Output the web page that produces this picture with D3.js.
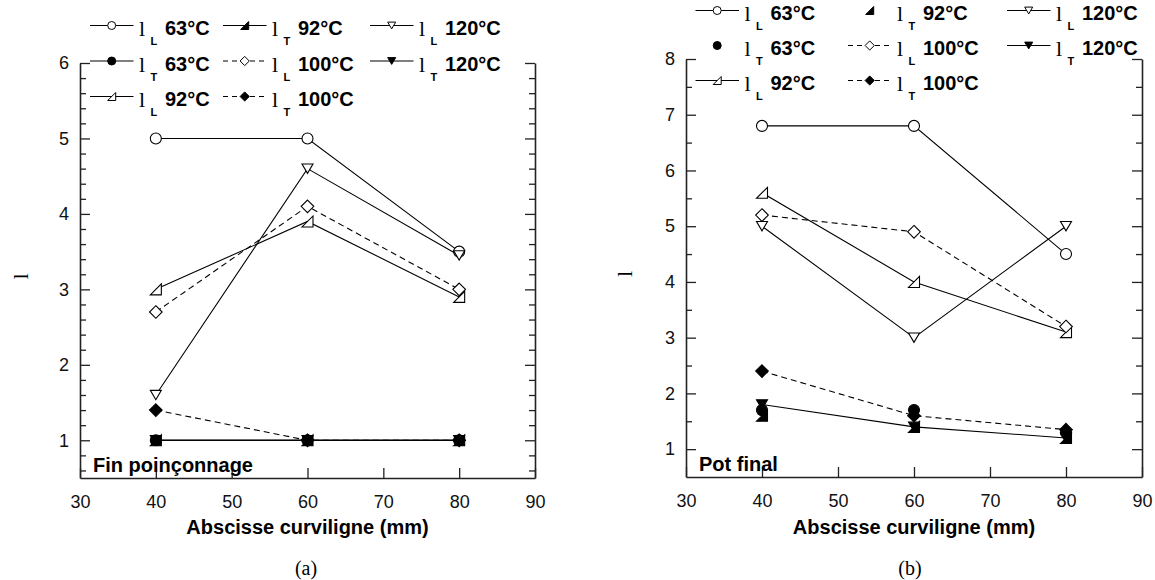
<!DOCTYPE html>
<html><head><meta charset="utf-8">
<script src="https://cdn.jsdelivr.net/npm/d3@7"></script>
<style>body{margin:0;background:#fff}</style>
</head><body>
<svg id="c" width="1155" height="580" xmlns="http://www.w3.org/2000/svg"></svg>
<script>
// ---------- data ----------
const xValues = [40, 60, 80];
const xTicks = [30, 40, 50, 60, 70, 80, 90];
const seriesKeys = ["lL63", "lT63", "lL92", "lT92", "lL100", "lT100", "lL120", "lT120"];
const seriesSub = ["L", "T", "L", "T", "L", "T", "L", "T"];
const seriesTemp = ["63°C", "63°C", "92°C", "92°C", "100°C", "100°C", "120°C", "120°C"];
const seriesSymbol = ["circle", "circle", "rtri", "rtri", "diamond", "diamond", "tridown", "tridown"];
const seriesFilled = [false, true, false, true, false, true, false, true];
const seriesDashed = [false, false, false, false, true, true, false, false];

// panel (a) : Fin poinçonnage
const aLL63 = [5, 5, 3.5];
const aLT63 = [1, 1, 1];
const aLL92 = [3, 3.9, 2.9];
const aLT92 = [1, 1, 1];
const aLL100 = [2.7, 4.1, 3.0];
const aLT100 = [1.4, 1, 1];
const aLL120 = [1.6, 4.6, 3.45];
const aLT120 = [1, 1, 1];
const aYTicks = [1, 2, 3, 4, 5, 6];
const aHasLine = [true, true, true, true, true, true, true, true];

// panel (b) : Pot final
const bLL63 = [6.8, 6.8, 4.5];
const bLT63 = [1.7, 1.7, 1.3];
const bLL92 = [5.6, 4.0, 3.1];
const bLT92 = [1.6, 1.4, 1.2];
const bLL100 = [5.2, 4.9, 3.2];
const bLT100 = [2.4, 1.6, 1.35];
const bLL120 = [5.0, 3.0, 5.0];
const bLT120 = [1.8, 1.4, 1.2];
const bYTicks = [1, 2, 3, 4, 5, 6, 7, 8];
const bHasLine = [true, false, true, false, true, true, true, true];

// ---------- drawing ----------
const svg = d3.select("#c");
const SANS = "'Liberation Sans', Arial, sans-serif";
const SERIF = "'Liberation Serif', 'Times New Roman', serif";

function shapePath(sym, s) {
  if (sym === "circle") return `M${s},0A${s},${s} 0 1,1 ${-s},0A${s},${s} 0 1,1 ${s},0Z`;
  if (sym === "rtri") return `M${-s},${s}L${s},${s}L${s},${-s}Z`;
  if (sym === "diamond") { const d = s * 1.15; return `M0,${-d}L${d},0L0,${d}L${-d},0Z`; }
  if (sym === "tridown") { const h = s * 0.85; return `M${-s},${-h}L${s},${-h}L0,${h}Z`; }
  return "";
}

function drawPanel(cfg) {
  const g = svg.append("g");
  const x = d3.scaleLinear().domain([30, 90]).range([cfg.left, cfg.right]);
  const y = d3.scaleLinear().domain([0.5, cfg.yMax]).range([cfg.bottom, cfg.top]);
  const axStroke = "#222";

  g.append("g").attr("transform", `translate(${cfg.left},0)`)
    .call(d3.axisLeft(y).tickValues(cfg.yTicks).tickSizeInner(-10).tickSizeOuter(0).tickPadding(11).tickFormat(d3.format("d")));
  g.append("g").attr("transform", `translate(${cfg.left},0)`)
    .call(d3.axisLeft(y).tickValues(cfg.yMinor).tickSizeInner(-6).tickSizeOuter(0).tickFormat(""))
    .select(".domain").remove();
  g.append("g").attr("transform", `translate(${cfg.right},0)`)
    .call(d3.axisRight(y).tickValues(cfg.yTicks).tickSizeInner(-10).tickSizeOuter(0).tickFormat(""));
  g.append("g").attr("transform", `translate(${cfg.right},0)`)
    .call(d3.axisRight(y).tickValues(cfg.yMinor).tickSizeInner(-6).tickSizeOuter(0).tickFormat(""))
    .select(".domain").remove();
  g.append("g").attr("transform", `translate(0,${cfg.bottom})`)
    .call(d3.axisBottom(x).tickValues(xTicks).tickSizeInner(-10).tickSizeOuter(0).tickPadding(17).tickFormat(d3.format("d")));

  g.selectAll(".domain").attr("stroke", axStroke).attr("stroke-width", 1.6);
  g.selectAll(".tick line").attr("stroke", axStroke).attr("stroke-width", 1.3);
  g.selectAll(".tick text").attr("font-family", SANS).attr("font-size", 18).attr("fill", "#111");

  g.append("text").attr("x", (cfg.left + cfg.right) / 2).attr("y", 534)
    .attr("text-anchor", "middle").attr("font-family", SANS).attr("font-weight", "bold")
    .attr("font-size", 20).text("Abscisse curviligne (mm)");
  g.append("text").attr("transform", `translate(${cfg.yLabelX},${(cfg.top + cfg.bottom) / 2 + 6}) rotate(-90)`)
    .attr("text-anchor", "middle").attr("dy", "0.35em").attr("font-family", SERIF)
    .attr("font-size", 22).text("l");
  g.append("text").attr("x", cfg.capX).attr("y", 575).attr("text-anchor", "middle")
    .attr("font-family", SERIF).attr("font-size", 20).text(cfg.caption);
  g.append("text").attr("x", cfg.left + 13).attr("y", cfg.bottom - 6)
    .attr("font-family", SANS).attr("font-weight", "bold").attr("font-size", 20).text(cfg.inner);

  const line = d3.line().x((d, i) => x(xValues[i])).y(d => y(d));
  cfg.series.forEach((vals, k) => {
    if (cfg.hasLine[k]) {
      g.append("path").attr("d", line(vals)).attr("fill", "none").attr("stroke", "#000")
        .attr("stroke-width", 1.1).attr("stroke-dasharray", seriesDashed[k] ? "6,4" : null);
    }
    g.selectAll(null).data(vals).enter().append("path")
      .attr("transform", (d, i) => `translate(${x(xValues[i])},${y(d)})`)
      .attr("d", shapePath(seriesSymbol[k], 5.5))
      .attr("fill", seriesFilled[k] ? "#000" : "#fff")
      .attr("stroke", "#000").attr("stroke-width", 1.1);
  });

  seriesKeys.forEach((key, k) => {
    const col = Math.floor(k / 3), row = k % 3;
    const x0 = cfg.legCols[col], base = cfg.legRows[row];
    const ly = base - 9.5;
    const lg = g.append("g");
    if (cfg.hasLine[k]) {
      lg.append("line").attr("x1", x0).attr("x2", x0 + 43.5).attr("y1", ly).attr("y2", ly)
        .attr("stroke", "#000").attr("stroke-width", 1.1)
        .attr("stroke-dasharray", seriesDashed[k] ? "5,4" : null);
    }
    lg.append("path").attr("transform", `translate(${x0 + 21.7},${ly})`)
      .attr("d", shapePath(seriesSymbol[k], 4))
      .attr("fill", seriesFilled[k] ? "#000" : "#fff").attr("stroke", "#000").attr("stroke-width", 1);
    lg.append("text").attr("x", x0 + 49).attr("y", base + 1).attr("font-family", SERIF)
      .attr("font-size", 22).text("l");
    lg.append("text").attr("x", x0 + 60.5).attr("y", base + 10).attr("font-family", SANS)
      .attr("font-weight", "bold").attr("font-size", 11).text(seriesSub[k]);
    lg.append("text").attr("x", x0 + 75).attr("y", base).attr("font-family", SANS)
      .attr("font-weight", "bold").attr("font-size", 20).text(seriesTemp[k]);
  });
}

const aMinor = d3.range(6, 60, 2).map(v => v / 10).filter(v => Math.abs(v - Math.round(v)) > 1e-6);
const bMinor = d3.range(15, 80, 10).map(v => v / 10);

drawPanel({
  left: 80, right: 535, top: 63, bottom: 478, yMax: 6, yTicks: aYTicks, yMinor: aMinor,
  yLabelX: 20, capX: 306, caption: "(a)", inner: "Fin poinçonnage",
  series: [aLL63, aLT63, aLL92, aLT92, aLL100, aLT100, aLL120, aLT120], hasLine: aHasLine,
  legCols: [90, 223, 370], legRows: [35, 70.5, 106]
});
drawPanel({
  left: 686, right: 1142, top: 59, bottom: 477, yMax: 8, yTicks: bYTicks, yMinor: bMinor,
  yLabelX: 624, capX: 910, caption: "(b)", inner: "Pot final",
  series: [bLL63, bLT63, bLL92, bLT92, bLL100, bLT100, bLL120, bLT120], hasLine: bHasLine,
  legCols: [695.5, 848, 1007], legRows: [20, 55, 90]
});
</script>
</body></html>
